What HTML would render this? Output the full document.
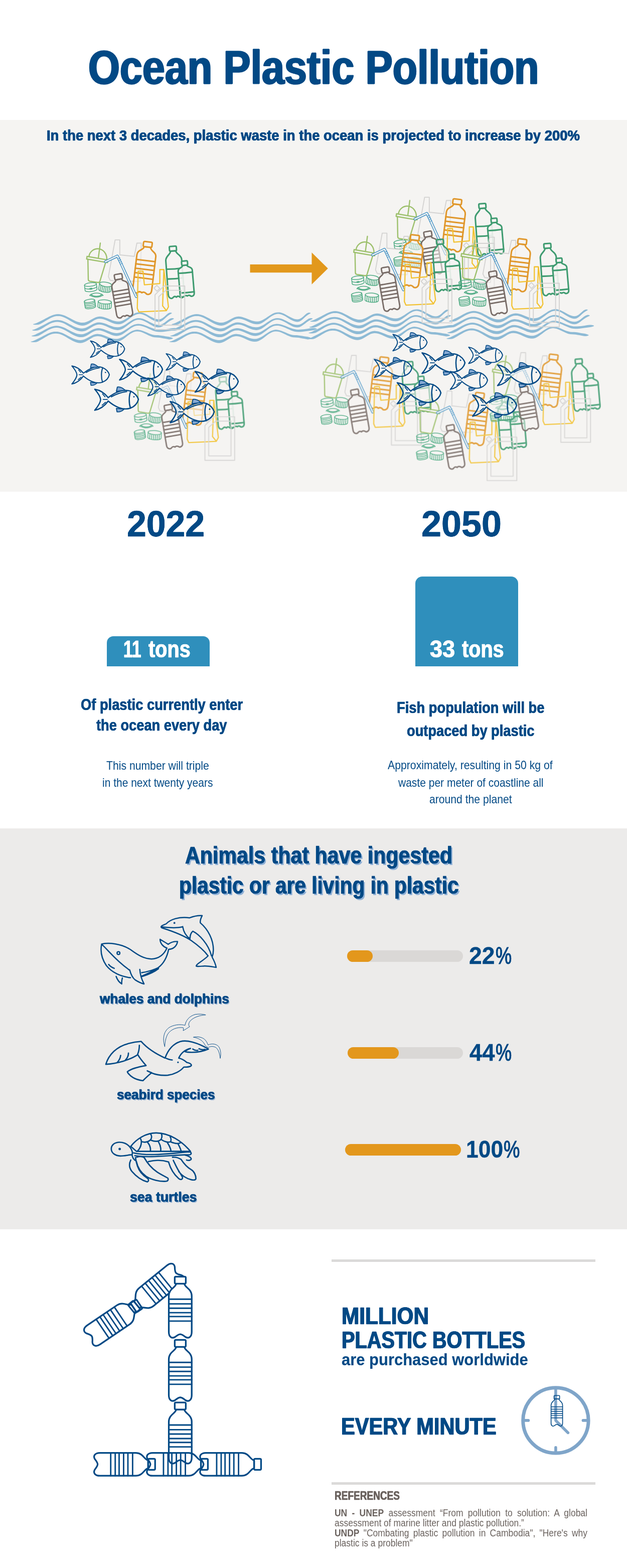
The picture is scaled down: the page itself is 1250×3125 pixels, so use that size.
<!DOCTYPE html>
<html lang="en"><head><meta charset="utf-8"><title>Ocean Plastic Pollution</title>
<style>html,body{margin:0;padding:0}
body{width:1250px;height:3125px;position:relative;background:#fff;overflow:hidden;font-family:"Liberation Sans", sans-serif}
.abs{position:absolute}
.t{position:absolute;white-space:nowrap;transform-origin:0 0;font-family:"Liberation Sans", sans-serif}
.band{position:absolute;left:0;width:1250px}</style></head>
<body>
<div class="band" style="top:239.2px;height:740.8px;background:#f5f4f2"></div>
<div class="band" style="top:1650.5px;height:799px;background:#ecebea"></div>
<svg class="abs" style="left:0;top:0" width="1250" height="1000" viewBox="0 0 1250 1000"><defs><g id="trash" transform="scale(0.25243)"><path d="M315,72 H352 L352,190 L466,202 L487,97 H522 L512,400 L300,394 L275,390 L262,362 Z" stroke="#d4d3d2" stroke-width="7.5" fill="none" stroke-linejoin="round"/><g stroke="#9dc06c" stroke-width="9.5" fill="none" stroke-linejoin="round" stroke-linecap="round"><path d="M198,97 L183,210"/><path d="M108,205 C112,165 148,138 185,142 C222,146 250,180 250,226"/><path d="M93,202 L258,230 L255,251 L90,223 Z" fill="#f5f4f2"/><path d="M100,226 L103,385 Q104,396 115,398 L180,408 Q191,409 195,398 L240,250"/></g><g transform="rotate(-7 122 445)"><g stroke="#4fab84" stroke-width="6" fill="none" stroke-linecap="round" stroke-linejoin="round"><ellipse cx="122.5" cy="424.0" rx="47.5" ry="14.0"/><path d="M75,424.0 V466.0 A47.5,14.0 0 0 0 170,466.0 V424.0"/><path d="M75,445.0 A47.5,14.0 0 0 0 170,445.0"/><rect x="114.5" y="453.4" width="16" height="8"/></g></g><g transform="rotate(9 236 445)"><g stroke="#4fab84" stroke-width="6" fill="none" stroke-linecap="round"><ellipse cx="236.5" cy="422.6" rx="48.5" ry="17.6"/><path d="M188,422.6 V467.4 A48.5,17.6 0 0 0 285,467.4 V422.6"/><path d="M201.9,438.9 V476.7"/><path d="M215.7,442.5 V480.3"/><path d="M229.6,444.0 V481.8"/><path d="M243.4,444.0 V481.8"/><path d="M257.3,442.5 V480.3"/><path d="M271.1,438.9 V476.7"/></g></g><g stroke="#4fab84" stroke-width="6" fill="none" stroke-linecap="round" stroke-linejoin="round"><ellipse cx="167.5" cy="503.96" rx="37.8" ry="12.6"/><path d="M115.0,511.1 L120.8,505.3 L126.7,516.1 L132.5,510.1 L138.3,520.5 L144.2,514.0 L150.0,523.8 L155.8,516.5 L161.7,525.6 L167.5,517.4 L173.3,525.6 L179.2,516.5 L185.0,523.8 L190.8,514.0 L196.7,520.5 L202.5,510.1 L208.3,516.1 L214.2,505.3 L220.0,511.1"/><path d="M115,511.1 Q125.5,496.4 129.7,500.6 M220,511.1 Q209.5,496.4 205.3,500.6"/></g><g transform="rotate(-9 116 578)"><g stroke="#4fab84" stroke-width="6" fill="none" stroke-linecap="round" stroke-linejoin="round"><ellipse cx="116.5" cy="552.75" rx="41.5" ry="12.750000000000002"/><path d="M75,552.75 V602.25 A41.5,12.750000000000002 0 0 0 158,602.25 V552.75"/><path d="M75,563.85 A41.5,12.750000000000002 0 0 0 158,563.85"/><path d="M75,577.35 A41.5,12.750000000000002 0 0 0 158,577.35"/><path d="M75,590.85 A41.5,12.750000000000002 0 0 0 158,590.85"/></g></g><g transform="rotate(4 232 582)"><g stroke="#4fab84" stroke-width="6" fill="none" stroke-linecap="round"><ellipse cx="232.5" cy="561.06" rx="52.5" ry="16.06"/><path d="M180,561.06 V601.94 A52.5,16.06 0 0 0 285,601.94 V561.06"/><path d="M195.0,576.3 V610.2"/><path d="M210.0,579.6 V613.5"/><path d="M225.0,581.0 V614.8"/><path d="M240.0,581.0 V614.8"/><path d="M255.0,579.6 V613.5"/><path d="M270.0,576.3 V610.2"/></g></g><g transform="translate(575,87) rotate(6.95)" stroke="#e0972b" stroke-width="12" fill="none" stroke-linejoin="round" stroke-linecap="round"><path d="M-25.9,41.3 C-25.9,70.2 -75.0,70.2 -75.0,111.5 L-75.0,375.9 C-75.0,415.1 -41.2,418.0 -31.5,404.8 Q-15.0,392.4 0,404.8 Q15.0,392.4 31.5,404.8 C41.2,418.0 75.0,415.1 75.0,375.9 L75.0,111.5 C75.0,70.2 25.9,70.2 25.9,41.3 Z" fill="#f5f4f2" fill-opacity="0.55"/><rect x="-34.5" y="0" width="69.0" height="41.3" rx="9.1" fill="#f5f4f2" fill-opacity="0.55"/><path d="M-75.0,148.7 H75.0"/><path d="M-75.0,183.8 H75.0"/><path d="M-75.0,218.9 H75.0"/><path d="M-75.0,254.0 H75.0"/><path d="M-75.0,289.1 H75.0"/></g><g transform="translate(770,122) rotate(-4.18)" stroke="#3e9b70" stroke-width="12" fill="none" stroke-linejoin="round" stroke-linecap="round"><path d="M-20.8,37.0 C-20.8,65.8 -63.0,69.9 -63.0,111.0 L-63.0,374.1 C-63.0,413.2 -34.7,416.0 -26.5,402.9 Q-12.6,390.5 0,402.9 Q12.6,390.5 26.5,402.9 C34.7,416.0 63.0,413.2 63.0,374.1 L63.0,111.0 C63.0,69.9 20.8,65.8 20.8,37.0 Z" fill="#f5f4f2" fill-opacity="0.55"/><rect x="-27.7" y="0" width="55.4" height="37.0" rx="8.1" fill="#f5f4f2" fill-opacity="0.55"/><path d="M-63.0,176.8 Q0,181.7 63.0,176.8"/><path d="M-63.0,254.9 Q0,259.8 63.0,254.9"/></g><g transform="translate(862,238) rotate(-4.86)" stroke="#3e9b70" stroke-width="12" fill="none" stroke-linejoin="round" stroke-linecap="round"><path d="M-17.6,34.0 C-17.6,53.8 -56.0,48.1 -56.0,76.4 L-56.0,257.5 C-56.0,284.4 -30.8,286.4 -23.5,277.4 Q-11.2,268.9 0,277.4 Q11.2,268.9 23.5,277.4 C30.8,286.4 56.0,284.4 56.0,257.5 L56.0,76.4 C56.0,48.1 17.6,53.8 17.6,34.0 Z" fill="#f5f4f2" fill-opacity="0.9"/><rect x="-23.5" y="0" width="47.0" height="34.0" rx="7.5" fill="#f5f4f2" fill-opacity="0.9"/><path d="M-56.0,93.4 Q0,96.8 56.0,93.4"/><path d="M-56.0,249.1 Q0,252.5 56.0,249.1"/></g><g transform="translate(337,342) rotate(-9.68)" stroke="#786c67" stroke-width="11" fill="none" stroke-linejoin="round" stroke-linecap="round"><path d="M-23.0,41.4 C-23.0,65.5 -64.0,58.6 -64.0,93.1 L-64.0,313.9 C-64.0,346.6 -35.2,349.1 -26.9,338.0 Q-12.8,327.7 0,338.0 Q12.8,327.7 26.9,338.0 C35.2,349.1 64.0,346.6 64.0,313.9 L64.0,93.1 C64.0,58.6 23.0,65.5 23.0,41.4 Z" fill="#f5f4f2" fill-opacity="0.55"/><rect x="-30.7" y="0" width="61.4" height="41.4" rx="9.1" fill="#f5f4f2" fill-opacity="0.55"/><path d="M-64.0,131.1 H64.0"/><path d="M-64.0,160.4 H64.0"/><path d="M-64.0,189.7 H64.0"/><path d="M-64.0,219.0 H64.0"/><path d="M-64.0,248.3 H64.0"/></g><path d="M238,244 L333,199 L356,246 L482,520" stroke="#3f90c5" stroke-width="21" fill="none" stroke-linejoin="round" stroke-linecap="round"/><path d="M238,244 L333,199 L356,246 L482,520" stroke="#f5f4f2" stroke-width="10" fill="none" stroke-linejoin="round" stroke-linecap="round"/><path d="M338,222 l18,-9 M344,236 l18,-9 M350,250 l18,-9 M356,264 l18,-9" stroke="#3f90c5" stroke-width="4" fill="none"/><g stroke="#f2c232" stroke-width="9" fill="none" stroke-linejoin="round"><path d="M497,318 H535 L546,426 L668,416 V306 H700 L736,600 L720,630 L502,640 L490,612 Z"/><path d="M700,306 L690,592 L720,630"/></g><g stroke="#d4d3d2" stroke-width="7.5" fill="none" stroke-linejoin="round"><path d="M700,436 H865 V780 H630 V505 L668,468 Z"/><path d="M715,470 H836 V745 H660 V520 Z"/><path d="M622,452 L645,430 L668,455 L645,477 Z"/></g></g><g id="fish" transform="translate(-60,-88)" stroke="#024985" stroke-width="12" fill="none" stroke-linejoin="round" stroke-linecap="round"><path d="M62,118 C112,126 160,160 190,198 C250,150 330,112 400,135 C442,150 470,185 478,215 C470,250 442,284 400,298 C330,322 250,282 190,230 C160,272 112,308 62,318 C100,272 116,242 118,217 C116,190 100,162 62,118 Z" fill="#f5f4f2" fill-opacity="0.55"/><path d="M268,138 L277,97 C302,92 330,107 352,128 Z" fill="#86a9d3" stroke-width="9"/><path d="M268,300 L274,333 C300,336 324,325 342,307 Z" fill="#86a9d3" stroke-width="9"/><path d="M405,137 C386,180 386,250 402,297"/><path d="M220,190 C262,165 312,148 366,140" stroke-width="11"/><path d="M142,215 H182 M136,162 L160,190 M132,270 L164,242" stroke-width="9"/><circle cx="435" cy="190" r="7" fill="#024985" stroke="none"/></g></defs><g fill="#8dbad5"><path d="M66.0,646.0 L69.5,645.1 L73.1,643.7 L76.7,641.9 L80.2,640.2 L83.8,638.5 L87.3,636.7 L90.8,634.8 L94.4,632.9 L98.0,631.0 L101.5,629.4 L105.1,628.0 L108.6,627.0 L112.2,626.3 L115.7,626.1 L119.2,626.3 L122.7,627.0 L126.3,628.0 L129.8,629.3 L133.3,630.9 L136.8,632.7 L140.3,634.6 L143.9,636.5 L147.4,638.3 L150.9,639.9 L154.4,641.2 L158.0,642.2 L161.5,642.9 L165.0,643.1 L168.7,642.7 L172.5,641.6 L176.2,640.0 L180.0,638.0 L183.7,635.9 L187.5,633.9 L191.2,632.3 L195.0,631.2 L198.7,630.8 L202.4,631.1 L206.2,631.8 L209.9,632.9 L213.6,634.2 L217.3,635.8 L221.1,637.3 L224.8,638.7 L228.5,639.8 L232.3,640.5 L236.0,640.7 L239.5,640.4 L243.0,639.5 L246.5,638.0 L250.0,636.1 L253.5,633.9 L257.0,631.5 L260.5,629.2 L264.0,626.9 L267.5,625.0 L271.0,623.6 L274.5,622.7 L278.0,622.4 L281.5,622.6 L285.1,623.5 L288.6,624.8 L292.2,626.5 L295.7,628.4 L299.3,630.4 L302.8,632.3 L306.4,634.0 L309.9,635.4 L313.5,636.2 L317.0,636.5 L320.6,635.8 L324.3,633.8 L327.9,630.9 L331.6,627.5 L335.2,624.5 L338.9,623.0 L342.5,623.4 L342.5,624.6 L338.9,626.5 L335.2,629.1 L331.6,632.1 L327.9,635.5 L324.3,638.5 L320.6,640.7 L317.0,641.5 L313.5,641.2 L309.9,640.3 L306.4,638.8 L302.8,636.9 L299.3,634.7 L295.7,632.5 L292.2,630.3 L288.6,628.4 L285.1,626.9 L281.5,626.0 L278.0,625.6 L274.5,626.0 L271.0,627.0 L267.5,628.7 L264.0,630.8 L260.5,633.3 L257.0,636.0 L253.5,638.6 L250.0,641.1 L246.5,643.3 L243.0,644.9 L239.5,645.9 L236.0,646.3 L232.3,646.0 L228.5,645.2 L224.8,644.0 L221.1,642.4 L217.3,640.7 L213.6,639.0 L209.9,637.5 L206.2,636.2 L202.4,635.4 L198.7,635.2 L195.0,635.6 L191.2,636.8 L187.5,638.6 L183.7,640.9 L180.0,643.2 L176.2,645.5 L172.5,647.3 L168.7,648.5 L165.0,648.9 L161.5,648.7 L158.0,648.0 L154.4,646.8 L150.9,645.3 L147.4,643.5 L143.9,641.5 L140.3,639.4 L136.8,637.3 L133.3,635.3 L129.8,633.5 L126.3,632.0 L122.7,630.8 L119.2,630.1 L115.7,629.9 L112.2,630.1 L108.6,630.8 L105.1,632.0 L101.5,633.5 L98.0,635.4 L94.4,637.5 L90.8,639.6 L87.3,641.8 L83.8,643.8 L80.2,645.7 L76.7,646.9 L73.1,647.3 L69.5,647.3 L66.0,646.8Z"/><path d="M64.5,657.6 L68.0,656.7 L71.6,655.3 L75.2,653.5 L78.7,651.8 L82.2,650.1 L85.8,648.3 L89.3,646.4 L92.9,644.5 L96.5,642.6 L100.0,641.0 L103.6,639.6 L107.1,638.6 L110.7,637.9 L114.2,637.7 L117.7,637.9 L121.2,638.6 L124.8,639.6 L128.3,640.9 L131.8,642.5 L135.3,644.3 L138.8,646.2 L142.4,648.1 L145.9,649.9 L149.4,651.5 L152.9,652.8 L156.5,653.8 L160.0,654.5 L163.5,654.7 L167.2,654.3 L171.0,653.2 L174.7,651.6 L178.5,649.6 L182.2,647.5 L186.0,645.5 L189.7,643.9 L193.5,642.8 L197.2,642.4 L200.9,642.7 L204.7,643.4 L208.4,644.5 L212.1,645.8 L215.8,647.4 L219.6,648.9 L223.3,650.3 L227.0,651.4 L230.8,652.1 L234.5,652.3 L238.0,652.0 L241.5,651.1 L245.0,649.6 L248.5,647.7 L252.0,645.5 L255.5,643.1 L259.0,640.8 L262.5,638.5 L266.0,636.6 L269.5,635.2 L273.0,634.3 L276.5,634.0 L280.1,634.2 L283.8,635.0 L287.4,636.3 L291.0,637.9 L294.7,639.8 L298.3,641.8 L302.0,643.6 L305.6,645.3 L309.2,646.5 L312.9,647.3 L316.5,647.6 L320.2,647.1 L324.0,645.5 L327.8,643.2 L331.5,640.3 L335.2,637.4 L339.0,635.0 L342.8,633.9 L346.5,634.5 L346.5,635.7 L342.8,637.5 L339.0,639.6 L335.2,642.0 L331.5,644.9 L327.8,647.8 L324.0,650.3 L320.2,652.0 L316.5,652.6 L312.9,652.3 L309.2,651.4 L305.6,649.9 L302.0,648.1 L298.3,646.0 L294.7,643.8 L291.0,641.7 L287.4,639.9 L283.8,638.5 L280.1,637.6 L276.5,637.2 L273.0,637.6 L269.5,638.6 L266.0,640.3 L262.5,642.4 L259.0,644.9 L255.5,647.6 L252.0,650.2 L248.5,652.7 L245.0,654.9 L241.5,656.5 L238.0,657.5 L234.5,657.9 L230.8,657.6 L227.0,656.8 L223.3,655.6 L219.6,654.0 L215.8,652.3 L212.1,650.6 L208.4,649.1 L204.7,647.8 L200.9,647.0 L197.2,646.8 L193.5,647.2 L189.7,648.4 L186.0,650.2 L182.2,652.5 L178.5,654.8 L174.7,657.1 L171.0,658.9 L167.2,660.1 L163.5,660.5 L160.0,660.3 L156.5,659.6 L152.9,658.4 L149.4,656.9 L145.9,655.1 L142.4,653.1 L138.8,651.0 L135.3,648.9 L131.8,646.9 L128.3,645.1 L124.8,643.6 L121.2,642.4 L117.7,641.7 L114.2,641.5 L110.7,641.7 L107.1,642.4 L103.6,643.6 L100.0,645.1 L96.5,647.0 L92.9,649.1 L89.3,651.2 L85.8,653.4 L82.2,655.4 L78.7,657.3 L75.2,658.5 L71.6,658.9 L68.0,658.9 L64.5,658.4Z"/><path d="M63.0,669.2 L66.5,668.3 L70.1,666.9 L73.7,665.1 L77.2,663.4 L80.8,661.7 L84.3,659.9 L87.8,658.0 L91.4,656.1 L95.0,654.2 L98.5,652.6 L102.1,651.2 L105.6,650.2 L109.2,649.5 L112.7,649.3 L116.2,649.5 L119.7,650.2 L123.3,651.2 L126.8,652.5 L130.3,654.1 L133.8,655.9 L137.3,657.8 L140.9,659.7 L144.4,661.5 L147.9,663.1 L151.4,664.4 L155.0,665.4 L158.5,666.1 L162.0,666.3 L165.7,665.9 L169.5,664.8 L173.2,663.2 L177.0,661.2 L180.7,659.1 L184.5,657.1 L188.2,655.5 L192.0,654.4 L195.7,654.0 L199.4,654.3 L203.2,655.0 L206.9,656.1 L210.6,657.4 L214.3,659.0 L218.1,660.5 L221.8,661.9 L225.5,663.0 L229.3,663.7 L233.0,663.9 L236.5,663.6 L240.0,662.7 L243.5,661.2 L247.0,659.3 L250.5,657.1 L254.0,654.7 L257.5,652.4 L261.0,650.1 L264.5,648.2 L268.0,646.8 L271.5,645.9 L275.0,645.6 L278.6,645.7 L282.2,646.3 L285.8,647.2 L289.3,648.4 L292.9,649.7 L296.5,651.2 L300.1,652.7 L303.7,654.0 L307.2,655.2 L310.8,656.1 L314.4,656.7 L318.0,656.9 L321.7,656.8 L325.4,656.5 L329.1,656.2 L332.8,655.7 L336.5,655.2 L340.2,654.6 L343.9,654.1 L347.6,653.7 L351.3,654.0 L355.0,655.1 L355.0,656.3 L351.3,657.6 L347.6,658.3 L343.9,658.7 L340.2,659.2 L336.5,659.8 L332.8,660.3 L329.1,660.8 L325.4,661.2 L321.7,661.5 L318.0,661.5 L314.4,661.3 L310.8,660.7 L307.2,659.7 L303.7,658.4 L300.1,656.8 L296.5,655.2 L292.9,653.6 L289.3,652.0 L285.8,650.7 L282.2,649.7 L278.6,649.1 L275.0,648.9 L271.5,649.2 L268.0,650.2 L264.5,651.9 L261.0,654.0 L257.5,656.5 L254.0,659.2 L250.5,661.8 L247.0,664.3 L243.5,666.5 L240.0,668.1 L236.5,669.1 L233.0,669.5 L229.3,669.2 L225.5,668.4 L221.8,667.2 L218.1,665.6 L214.3,663.9 L210.6,662.2 L206.9,660.7 L203.2,659.4 L199.4,658.6 L195.7,658.4 L192.0,658.8 L188.2,660.0 L184.5,661.8 L180.7,664.1 L177.0,666.4 L173.2,668.7 L169.5,670.5 L165.7,671.7 L162.0,672.1 L158.5,671.9 L155.0,671.2 L151.4,670.0 L147.9,668.5 L144.4,666.7 L140.9,664.7 L137.3,662.6 L133.8,660.5 L130.3,658.5 L126.8,656.7 L123.3,655.2 L119.7,654.0 L116.2,653.3 L112.7,653.1 L109.2,653.3 L105.6,654.0 L102.1,655.2 L98.5,656.7 L95.0,658.6 L91.4,660.7 L87.8,662.8 L84.3,665.0 L80.8,667.0 L77.2,668.9 L73.7,670.1 L70.1,670.5 L66.5,670.5 L63.0,670.0Z"/><path d="M61.5,680.8 L65.0,679.9 L68.6,678.5 L72.2,676.7 L75.7,675.0 L79.2,673.3 L82.8,671.5 L86.3,669.6 L89.9,667.7 L93.5,665.8 L97.0,664.2 L100.6,662.8 L104.1,661.8 L107.7,661.1 L111.2,660.9 L114.7,661.1 L118.2,661.8 L121.8,662.8 L125.3,664.1 L128.8,665.7 L132.3,667.5 L135.8,669.4 L139.4,671.3 L142.9,673.1 L146.4,674.7 L149.9,676.0 L153.5,677.0 L157.0,677.7 L160.5,677.9 L164.2,677.5 L168.0,676.4 L171.7,674.8 L175.5,672.8 L179.2,670.7 L183.0,668.7 L186.7,667.1 L190.5,666.0 L194.2,665.6 L197.9,665.9 L201.7,666.6 L205.4,667.7 L209.1,669.0 L212.8,670.6 L216.6,672.1 L220.3,673.5 L224.0,674.6 L227.8,675.3 L231.5,675.5 L235.0,675.2 L238.5,674.3 L242.0,672.8 L245.5,670.9 L249.0,668.7 L252.5,666.3 L256.0,664.0 L259.5,661.7 L263.0,659.8 L266.5,658.4 L270.0,657.5 L273.5,657.1 L277.3,657.4 L281.1,658.2 L284.9,659.4 L288.7,660.9 L292.5,662.6 L296.3,664.2 L300.1,665.7 L303.9,666.9 L307.7,667.7 L311.5,668.0 L315.2,668.1 L318.8,668.4 L322.5,668.9 L326.2,669.5 L329.8,670.2 L333.5,670.8 L337.2,671.3 L340.8,672.2 L344.5,673.7 L344.5,674.9 L340.8,676.1 L337.2,676.4 L333.5,675.8 L329.8,675.1 L326.2,674.4 L322.5,673.7 L318.8,673.1 L315.2,672.7 L311.5,672.6 L307.7,672.3 L303.9,671.5 L300.1,670.1 L296.3,668.4 L292.5,666.5 L288.7,664.7 L284.9,663.0 L281.1,661.6 L277.3,660.7 L273.5,660.4 L270.0,660.8 L266.5,661.8 L263.0,663.5 L259.5,665.6 L256.0,668.1 L252.5,670.8 L249.0,673.4 L245.5,675.9 L242.0,678.1 L238.5,679.7 L235.0,680.7 L231.5,681.1 L227.8,680.8 L224.0,680.0 L220.3,678.8 L216.6,677.2 L212.8,675.5 L209.1,673.8 L205.4,672.3 L201.7,671.0 L197.9,670.2 L194.2,670.0 L190.5,670.4 L186.7,671.6 L183.0,673.4 L179.2,675.7 L175.5,678.0 L171.7,680.3 L168.0,682.1 L164.2,683.3 L160.5,683.7 L157.0,683.5 L153.5,682.8 L149.9,681.6 L146.4,680.1 L142.9,678.3 L139.4,676.3 L135.8,674.2 L132.3,672.1 L128.8,670.1 L125.3,668.3 L121.8,666.8 L118.2,665.6 L114.7,664.9 L111.2,664.7 L107.7,664.9 L104.1,665.6 L100.6,666.8 L97.0,668.3 L93.5,670.2 L89.9,672.3 L86.3,674.4 L82.8,676.6 L79.2,678.6 L75.7,680.5 L72.2,681.7 L68.6,682.1 L65.0,682.1 L61.5,681.6Z"/><path d="M342.5,646.0 L346.1,645.1 L349.6,643.7 L353.1,641.9 L356.7,640.2 L360.2,638.5 L363.8,636.7 L367.4,634.8 L370.9,632.9 L374.4,631.0 L378.0,629.4 L381.6,628.0 L385.1,627.0 L388.6,626.3 L392.2,626.1 L395.7,626.3 L399.2,627.0 L402.8,628.0 L406.3,629.3 L409.8,630.9 L413.3,632.7 L416.9,634.6 L420.4,636.5 L423.9,638.3 L427.4,639.9 L430.9,641.2 L434.5,642.2 L438.0,642.9 L441.5,643.1 L445.2,642.7 L449.0,641.6 L452.7,640.0 L456.5,638.0 L460.2,635.9 L464.0,633.9 L467.7,632.3 L471.5,631.2 L475.2,630.8 L478.9,631.1 L482.7,631.8 L486.4,632.9 L490.1,634.2 L493.9,635.8 L497.6,637.3 L501.3,638.7 L505.0,639.8 L508.8,640.5 L512.5,640.7 L516.0,640.4 L519.5,639.5 L523.0,638.0 L526.5,636.1 L530.0,633.9 L533.5,631.5 L537.0,629.2 L540.5,626.9 L544.0,625.0 L547.5,623.6 L551.0,622.7 L554.5,622.4 L558.0,622.6 L561.6,623.5 L565.1,624.8 L568.7,626.5 L572.2,628.4 L575.8,630.4 L579.3,632.3 L582.9,634.0 L586.4,635.4 L590.0,636.2 L593.5,636.5 L597.1,635.8 L600.8,633.8 L604.4,630.9 L608.1,627.5 L611.7,624.5 L615.4,623.0 L619.0,623.4 L619.0,624.6 L615.4,626.5 L611.7,629.1 L608.1,632.1 L604.4,635.5 L600.8,638.5 L597.1,640.7 L593.5,641.5 L590.0,641.2 L586.4,640.3 L582.9,638.8 L579.3,636.9 L575.8,634.7 L572.2,632.5 L568.7,630.3 L565.1,628.4 L561.6,626.9 L558.0,626.0 L554.5,625.6 L551.0,626.0 L547.5,627.0 L544.0,628.7 L540.5,630.8 L537.0,633.3 L533.5,636.0 L530.0,638.6 L526.5,641.1 L523.0,643.3 L519.5,644.9 L516.0,645.9 L512.5,646.3 L508.8,646.0 L505.0,645.2 L501.3,644.0 L497.6,642.4 L493.9,640.7 L490.1,639.0 L486.4,637.5 L482.7,636.2 L478.9,635.4 L475.2,635.2 L471.5,635.6 L467.7,636.8 L464.0,638.6 L460.2,640.9 L456.5,643.2 L452.7,645.5 L449.0,647.3 L445.2,648.5 L441.5,648.9 L438.0,648.7 L434.5,648.0 L430.9,646.8 L427.4,645.3 L423.9,643.5 L420.4,641.5 L416.9,639.4 L413.3,637.3 L409.8,635.3 L406.3,633.5 L402.8,632.0 L399.2,630.8 L395.7,630.1 L392.2,629.9 L388.6,630.1 L385.1,630.8 L381.6,632.0 L378.0,633.5 L374.4,635.4 L370.9,637.5 L367.4,639.6 L363.8,641.8 L360.2,643.8 L356.7,645.7 L353.1,646.9 L349.6,647.3 L346.1,647.3 L342.5,646.8Z"/><path d="M341.0,657.6 L344.6,656.7 L348.1,655.3 L351.6,653.5 L355.2,651.8 L358.8,650.1 L362.3,648.3 L365.9,646.4 L369.4,644.5 L372.9,642.6 L376.5,641.0 L380.1,639.6 L383.6,638.6 L387.1,637.9 L390.7,637.7 L394.2,637.9 L397.7,638.6 L401.3,639.6 L404.8,640.9 L408.3,642.5 L411.8,644.3 L415.4,646.2 L418.9,648.1 L422.4,649.9 L425.9,651.5 L429.4,652.8 L433.0,653.8 L436.5,654.5 L440.0,654.7 L443.7,654.3 L447.5,653.2 L451.2,651.6 L455.0,649.6 L458.7,647.5 L462.5,645.5 L466.2,643.9 L470.0,642.8 L473.7,642.4 L477.4,642.7 L481.2,643.4 L484.9,644.5 L488.6,645.8 L492.4,647.4 L496.1,648.9 L499.8,650.3 L503.5,651.4 L507.3,652.1 L511.0,652.3 L514.5,652.0 L518.0,651.1 L521.5,649.6 L525.0,647.7 L528.5,645.5 L532.0,643.1 L535.5,640.8 L539.0,638.5 L542.5,636.6 L546.0,635.2 L549.5,634.3 L553.0,634.0 L556.6,634.2 L560.3,635.0 L563.9,636.3 L567.5,637.9 L571.2,639.8 L574.8,641.8 L578.5,643.6 L582.1,645.3 L585.7,646.5 L589.4,647.3 L593.0,647.6 L596.8,647.1 L600.5,645.5 L604.2,643.2 L608.0,640.3 L611.8,637.4 L615.5,635.0 L619.2,633.9 L623.0,634.5 L623.0,635.7 L619.2,637.5 L615.5,639.6 L611.8,642.0 L608.0,644.9 L604.2,647.8 L600.5,650.3 L596.8,652.0 L593.0,652.6 L589.4,652.3 L585.7,651.4 L582.1,649.9 L578.5,648.1 L574.8,646.0 L571.2,643.8 L567.5,641.7 L563.9,639.9 L560.3,638.5 L556.6,637.6 L553.0,637.2 L549.5,637.6 L546.0,638.6 L542.5,640.3 L539.0,642.4 L535.5,644.9 L532.0,647.6 L528.5,650.2 L525.0,652.7 L521.5,654.9 L518.0,656.5 L514.5,657.5 L511.0,657.9 L507.3,657.6 L503.5,656.8 L499.8,655.6 L496.1,654.0 L492.4,652.3 L488.6,650.6 L484.9,649.1 L481.2,647.8 L477.4,647.0 L473.7,646.8 L470.0,647.2 L466.2,648.4 L462.5,650.2 L458.7,652.5 L455.0,654.8 L451.2,657.1 L447.5,658.9 L443.7,660.1 L440.0,660.5 L436.5,660.3 L433.0,659.6 L429.4,658.4 L425.9,656.9 L422.4,655.1 L418.9,653.1 L415.4,651.0 L411.8,648.9 L408.3,646.9 L404.8,645.1 L401.3,643.6 L397.7,642.4 L394.2,641.7 L390.7,641.5 L387.1,641.7 L383.6,642.4 L380.1,643.6 L376.5,645.1 L372.9,647.0 L369.4,649.1 L365.9,651.2 L362.3,653.4 L358.8,655.4 L355.2,657.3 L351.6,658.5 L348.1,658.9 L344.6,658.9 L341.0,658.4Z"/><path d="M339.5,669.2 L343.1,668.3 L346.6,666.9 L350.1,665.1 L353.7,663.4 L357.2,661.7 L360.8,659.9 L364.4,658.0 L367.9,656.1 L371.4,654.2 L375.0,652.6 L378.6,651.2 L382.1,650.2 L385.6,649.5 L389.2,649.3 L392.7,649.5 L396.2,650.2 L399.8,651.2 L403.3,652.5 L406.8,654.1 L410.3,655.9 L413.9,657.8 L417.4,659.7 L420.9,661.5 L424.4,663.1 L427.9,664.4 L431.5,665.4 L435.0,666.1 L438.5,666.3 L442.2,665.9 L446.0,664.8 L449.7,663.2 L453.5,661.2 L457.2,659.1 L461.0,657.1 L464.7,655.5 L468.5,654.4 L472.2,654.0 L475.9,654.3 L479.7,655.0 L483.4,656.1 L487.1,657.4 L490.9,659.0 L494.6,660.5 L498.3,661.9 L502.0,663.0 L505.8,663.7 L509.5,663.9 L513.0,663.6 L516.5,662.7 L520.0,661.2 L523.5,659.3 L527.0,657.1 L530.5,654.7 L534.0,652.4 L537.5,650.1 L541.0,648.2 L544.5,646.8 L548.0,645.9 L551.5,645.6 L555.1,645.7 L558.7,646.3 L562.2,647.2 L565.8,648.4 L569.4,649.7 L573.0,651.2 L576.6,652.7 L580.2,654.0 L583.8,655.2 L587.3,656.1 L590.9,656.7 L594.5,656.9 L598.2,656.8 L601.9,656.5 L605.6,656.2 L609.3,655.7 L613.0,655.2 L616.7,654.6 L620.4,654.1 L624.1,653.7 L627.8,654.0 L631.5,655.1 L631.5,656.3 L627.8,657.6 L624.1,658.3 L620.4,658.7 L616.7,659.2 L613.0,659.8 L609.3,660.3 L605.6,660.8 L601.9,661.2 L598.2,661.5 L594.5,661.5 L590.9,661.3 L587.3,660.7 L583.8,659.7 L580.2,658.4 L576.6,656.8 L573.0,655.2 L569.4,653.6 L565.8,652.0 L562.2,650.7 L558.7,649.7 L555.1,649.1 L551.5,648.9 L548.0,649.2 L544.5,650.2 L541.0,651.9 L537.5,654.0 L534.0,656.5 L530.5,659.2 L527.0,661.8 L523.5,664.3 L520.0,666.5 L516.5,668.1 L513.0,669.1 L509.5,669.5 L505.8,669.2 L502.0,668.4 L498.3,667.2 L494.6,665.6 L490.9,663.9 L487.1,662.2 L483.4,660.7 L479.7,659.4 L475.9,658.6 L472.2,658.4 L468.5,658.8 L464.7,660.0 L461.0,661.8 L457.2,664.1 L453.5,666.4 L449.7,668.7 L446.0,670.5 L442.2,671.7 L438.5,672.1 L435.0,671.9 L431.5,671.2 L427.9,670.0 L424.4,668.5 L420.9,666.7 L417.4,664.7 L413.9,662.6 L410.3,660.5 L406.8,658.5 L403.3,656.7 L399.8,655.2 L396.2,654.0 L392.7,653.3 L389.2,653.1 L385.6,653.3 L382.1,654.0 L378.6,655.2 L375.0,656.7 L371.4,658.6 L367.9,660.7 L364.4,662.8 L360.8,665.0 L357.2,667.0 L353.7,668.9 L350.1,670.1 L346.6,670.5 L343.1,670.5 L339.5,670.0Z"/><path d="M338.0,680.8 L341.6,679.9 L345.1,678.5 L348.6,676.7 L352.2,675.0 L355.8,673.3 L359.3,671.5 L362.9,669.6 L366.4,667.7 L369.9,665.8 L373.5,664.2 L377.1,662.8 L380.6,661.8 L384.1,661.1 L387.7,660.9 L391.2,661.1 L394.7,661.8 L398.3,662.8 L401.8,664.1 L405.3,665.7 L408.8,667.5 L412.4,669.4 L415.9,671.3 L419.4,673.1 L422.9,674.7 L426.4,676.0 L430.0,677.0 L433.5,677.7 L437.0,677.9 L440.7,677.5 L444.5,676.4 L448.2,674.8 L452.0,672.8 L455.7,670.7 L459.5,668.7 L463.2,667.1 L467.0,666.0 L470.7,665.6 L474.4,665.9 L478.2,666.6 L481.9,667.7 L485.6,669.0 L489.4,670.6 L493.1,672.1 L496.8,673.5 L500.5,674.6 L504.3,675.3 L508.0,675.5 L511.5,675.2 L515.0,674.3 L518.5,672.8 L522.0,670.9 L525.5,668.7 L529.0,666.3 L532.5,664.0 L536.0,661.7 L539.5,659.8 L543.0,658.4 L546.5,657.5 L550.0,657.1 L553.8,657.4 L557.6,658.2 L561.4,659.4 L565.2,660.9 L569.0,662.6 L572.8,664.2 L576.6,665.7 L580.4,666.9 L584.2,667.7 L588.0,668.0 L591.7,668.1 L595.3,668.4 L599.0,668.9 L602.7,669.5 L606.3,670.2 L610.0,670.8 L613.7,671.3 L617.3,672.2 L621.0,673.7 L621.0,674.9 L617.3,676.1 L613.7,676.4 L610.0,675.8 L606.3,675.1 L602.7,674.4 L599.0,673.7 L595.3,673.1 L591.7,672.7 L588.0,672.6 L584.2,672.3 L580.4,671.5 L576.6,670.1 L572.8,668.4 L569.0,666.5 L565.2,664.7 L561.4,663.0 L557.6,661.6 L553.8,660.7 L550.0,660.4 L546.5,660.8 L543.0,661.8 L539.5,663.5 L536.0,665.6 L532.5,668.1 L529.0,670.8 L525.5,673.4 L522.0,675.9 L518.5,678.1 L515.0,679.7 L511.5,680.7 L508.0,681.1 L504.3,680.8 L500.5,680.0 L496.8,678.8 L493.1,677.2 L489.4,675.5 L485.6,673.8 L481.9,672.3 L478.2,671.0 L474.4,670.2 L470.7,670.0 L467.0,670.4 L463.2,671.6 L459.5,673.4 L455.7,675.7 L452.0,678.0 L448.2,680.3 L444.5,682.1 L440.7,683.3 L437.0,683.7 L433.5,683.5 L430.0,682.8 L426.4,681.6 L422.9,680.1 L419.4,678.3 L415.9,676.3 L412.4,674.2 L408.8,672.1 L405.3,670.1 L401.8,668.3 L398.3,666.8 L394.7,665.6 L391.2,664.9 L387.7,664.7 L384.1,664.9 L380.6,665.6 L377.1,666.8 L373.5,668.3 L369.9,670.2 L366.4,672.3 L362.9,674.4 L359.3,676.6 L355.8,678.6 L352.2,680.5 L348.6,681.7 L345.1,682.1 L341.6,682.1 L338.0,681.6Z"/><path d="M618.5,640.0 L622.0,639.1 L625.6,637.7 L629.1,635.9 L632.7,634.2 L636.2,632.5 L639.8,630.7 L643.4,628.8 L646.9,626.9 L650.5,625.0 L654.0,623.4 L657.6,622.0 L661.1,621.0 L664.7,620.3 L668.2,620.1 L671.7,620.3 L675.2,621.0 L678.8,622.0 L682.3,623.3 L685.8,624.9 L689.3,626.7 L692.9,628.6 L696.4,630.5 L699.9,632.3 L703.4,633.9 L706.9,635.2 L710.5,636.2 L714.0,636.9 L717.5,637.1 L721.2,636.7 L725.0,635.6 L728.7,634.0 L732.5,632.0 L736.2,629.9 L740.0,627.9 L743.7,626.3 L747.5,625.2 L751.2,624.8 L754.9,625.1 L758.7,625.8 L762.4,626.9 L766.1,628.2 L769.9,629.8 L773.6,631.3 L777.3,632.7 L781.0,633.8 L784.8,634.5 L788.5,634.7 L792.0,634.4 L795.5,633.5 L799.0,632.0 L802.5,630.1 L806.0,627.9 L809.5,625.5 L813.0,623.2 L816.5,620.9 L820.0,619.0 L823.5,617.6 L827.0,616.7 L830.5,616.4 L834.0,616.6 L837.6,617.5 L841.1,618.8 L844.7,620.5 L848.2,622.4 L851.8,624.4 L855.3,626.3 L858.9,628.0 L862.4,629.4 L866.0,630.2 L869.5,630.5 L873.1,629.8 L876.8,627.8 L880.4,624.9 L884.1,621.5 L887.7,618.5 L891.4,617.0 L895.0,617.4 L895.0,618.6 L891.4,620.5 L887.7,623.1 L884.1,626.1 L880.4,629.5 L876.8,632.5 L873.1,634.7 L869.5,635.5 L866.0,635.2 L862.4,634.3 L858.9,632.8 L855.3,630.9 L851.8,628.7 L848.2,626.5 L844.7,624.3 L841.1,622.4 L837.6,620.9 L834.0,620.0 L830.5,619.6 L827.0,620.0 L823.5,621.0 L820.0,622.7 L816.5,624.8 L813.0,627.3 L809.5,630.0 L806.0,632.6 L802.5,635.1 L799.0,637.3 L795.5,638.9 L792.0,639.9 L788.5,640.3 L784.8,640.0 L781.0,639.2 L777.3,638.0 L773.6,636.4 L769.9,634.7 L766.1,633.0 L762.4,631.5 L758.7,630.2 L754.9,629.4 L751.2,629.2 L747.5,629.6 L743.7,630.8 L740.0,632.6 L736.2,634.9 L732.5,637.2 L728.7,639.5 L725.0,641.3 L721.2,642.5 L717.5,642.9 L714.0,642.7 L710.5,642.0 L706.9,640.8 L703.4,639.3 L699.9,637.5 L696.4,635.5 L692.9,633.4 L689.3,631.3 L685.8,629.3 L682.3,627.5 L678.8,626.0 L675.2,624.8 L671.7,624.1 L668.2,623.9 L664.7,624.1 L661.1,624.8 L657.6,626.0 L654.0,627.5 L650.5,629.4 L646.9,631.5 L643.4,633.6 L639.8,635.8 L636.2,637.8 L632.7,639.7 L629.1,640.9 L625.6,641.3 L622.0,641.3 L618.5,640.8Z"/><path d="M617.0,651.6 L620.5,650.7 L624.1,649.3 L627.6,647.5 L631.2,645.8 L634.8,644.1 L638.3,642.3 L641.9,640.4 L645.4,638.5 L649.0,636.6 L652.5,635.0 L656.1,633.6 L659.6,632.6 L663.2,631.9 L666.7,631.7 L670.2,631.9 L673.7,632.6 L677.3,633.6 L680.8,634.9 L684.3,636.5 L687.8,638.3 L691.4,640.2 L694.9,642.1 L698.4,643.9 L701.9,645.5 L705.4,646.8 L709.0,647.8 L712.5,648.5 L716.0,648.7 L719.7,648.3 L723.5,647.2 L727.2,645.6 L731.0,643.6 L734.7,641.5 L738.5,639.5 L742.2,637.9 L746.0,636.8 L749.7,636.4 L753.4,636.7 L757.2,637.4 L760.9,638.5 L764.6,639.8 L768.4,641.4 L772.1,642.9 L775.8,644.3 L779.5,645.4 L783.3,646.1 L787.0,646.3 L790.5,646.0 L794.0,645.1 L797.5,643.6 L801.0,641.7 L804.5,639.5 L808.0,637.1 L811.5,634.8 L815.0,632.5 L818.5,630.6 L822.0,629.2 L825.5,628.3 L829.0,628.0 L832.6,628.2 L836.3,629.0 L839.9,630.3 L843.5,631.9 L847.2,633.8 L850.8,635.8 L854.5,637.6 L858.1,639.3 L861.7,640.5 L865.4,641.3 L869.0,641.6 L872.8,641.1 L876.5,639.5 L880.2,637.2 L884.0,634.3 L887.8,631.4 L891.5,629.0 L895.2,627.9 L899.0,628.5 L899.0,629.7 L895.2,631.5 L891.5,633.6 L887.8,636.0 L884.0,638.9 L880.2,641.8 L876.5,644.3 L872.8,646.0 L869.0,646.6 L865.4,646.3 L861.7,645.4 L858.1,643.9 L854.5,642.1 L850.8,640.0 L847.2,637.8 L843.5,635.7 L839.9,633.9 L836.3,632.5 L832.6,631.6 L829.0,631.2 L825.5,631.6 L822.0,632.6 L818.5,634.3 L815.0,636.4 L811.5,638.9 L808.0,641.6 L804.5,644.2 L801.0,646.7 L797.5,648.9 L794.0,650.5 L790.5,651.5 L787.0,651.9 L783.3,651.6 L779.5,650.8 L775.8,649.6 L772.1,648.0 L768.4,646.3 L764.6,644.6 L760.9,643.1 L757.2,641.8 L753.4,641.0 L749.7,640.8 L746.0,641.2 L742.2,642.4 L738.5,644.2 L734.7,646.5 L731.0,648.8 L727.2,651.1 L723.5,652.9 L719.7,654.1 L716.0,654.5 L712.5,654.3 L709.0,653.6 L705.4,652.4 L701.9,650.9 L698.4,649.1 L694.9,647.1 L691.4,645.0 L687.8,642.9 L684.3,640.9 L680.8,639.1 L677.3,637.6 L673.7,636.4 L670.2,635.7 L666.7,635.5 L663.2,635.7 L659.6,636.4 L656.1,637.6 L652.5,639.1 L649.0,641.0 L645.4,643.1 L641.9,645.2 L638.3,647.4 L634.8,649.4 L631.2,651.3 L627.6,652.5 L624.1,652.9 L620.5,652.9 L617.0,652.4Z"/><path d="M615.5,663.2 L619.0,662.3 L622.6,660.9 L626.1,659.1 L629.7,657.4 L633.2,655.7 L636.8,653.9 L640.4,652.0 L643.9,650.1 L647.5,648.2 L651.0,646.6 L654.6,645.2 L658.1,644.2 L661.7,643.5 L665.2,643.3 L668.7,643.5 L672.2,644.2 L675.8,645.2 L679.3,646.5 L682.8,648.1 L686.3,649.9 L689.9,651.8 L693.4,653.7 L696.9,655.5 L700.4,657.1 L703.9,658.4 L707.5,659.4 L711.0,660.1 L714.5,660.3 L718.2,659.9 L722.0,658.8 L725.7,657.2 L729.5,655.2 L733.2,653.1 L737.0,651.1 L740.7,649.5 L744.5,648.4 L748.2,648.0 L751.9,648.3 L755.7,649.0 L759.4,650.1 L763.1,651.4 L766.9,653.0 L770.6,654.5 L774.3,655.9 L778.0,657.0 L781.8,657.7 L785.5,657.9 L789.0,657.6 L792.5,656.7 L796.0,655.2 L799.5,653.3 L803.0,651.1 L806.5,648.7 L810.0,646.4 L813.5,644.1 L817.0,642.2 L820.5,640.8 L824.0,639.9 L827.5,639.6 L831.1,639.7 L834.7,640.3 L838.2,641.2 L841.8,642.4 L845.4,643.7 L849.0,645.2 L852.6,646.7 L856.2,648.0 L859.8,649.2 L863.3,650.1 L866.9,650.7 L870.5,650.9 L874.2,650.8 L877.9,650.5 L881.6,650.2 L885.3,649.7 L889.0,649.2 L892.7,648.6 L896.4,648.1 L900.1,647.7 L903.8,648.0 L907.5,649.1 L907.5,650.3 L903.8,651.6 L900.1,652.3 L896.4,652.7 L892.7,653.2 L889.0,653.8 L885.3,654.3 L881.6,654.8 L877.9,655.2 L874.2,655.5 L870.5,655.5 L866.9,655.3 L863.3,654.7 L859.8,653.7 L856.2,652.4 L852.6,650.8 L849.0,649.2 L845.4,647.6 L841.8,646.0 L838.2,644.7 L834.7,643.7 L831.1,643.1 L827.5,642.9 L824.0,643.2 L820.5,644.2 L817.0,645.9 L813.5,648.0 L810.0,650.5 L806.5,653.2 L803.0,655.8 L799.5,658.3 L796.0,660.5 L792.5,662.1 L789.0,663.1 L785.5,663.5 L781.8,663.2 L778.0,662.4 L774.3,661.2 L770.6,659.6 L766.9,657.9 L763.1,656.2 L759.4,654.7 L755.7,653.4 L751.9,652.6 L748.2,652.4 L744.5,652.8 L740.7,654.0 L737.0,655.8 L733.2,658.1 L729.5,660.4 L725.7,662.7 L722.0,664.5 L718.2,665.7 L714.5,666.1 L711.0,665.9 L707.5,665.2 L703.9,664.0 L700.4,662.5 L696.9,660.7 L693.4,658.7 L689.9,656.6 L686.3,654.5 L682.8,652.5 L679.3,650.7 L675.8,649.2 L672.2,648.0 L668.7,647.3 L665.2,647.1 L661.7,647.3 L658.1,648.0 L654.6,649.2 L651.0,650.7 L647.5,652.6 L643.9,654.7 L640.4,656.8 L636.8,659.0 L633.2,661.0 L629.7,662.9 L626.1,664.1 L622.6,664.5 L619.0,664.5 L615.5,664.0Z"/><path d="M614.0,674.8 L617.5,673.9 L621.1,672.5 L624.6,670.7 L628.2,669.0 L631.8,667.3 L635.3,665.5 L638.9,663.6 L642.4,661.7 L646.0,659.8 L649.5,658.2 L653.1,656.8 L656.6,655.8 L660.2,655.1 L663.7,654.9 L667.2,655.1 L670.7,655.8 L674.3,656.8 L677.8,658.1 L681.3,659.7 L684.8,661.5 L688.4,663.4 L691.9,665.3 L695.4,667.1 L698.9,668.7 L702.4,670.0 L706.0,671.0 L709.5,671.7 L713.0,671.9 L716.7,671.5 L720.5,670.4 L724.2,668.8 L728.0,666.8 L731.7,664.7 L735.5,662.7 L739.2,661.1 L743.0,660.0 L746.7,659.6 L750.4,659.9 L754.2,660.6 L757.9,661.7 L761.6,663.0 L765.4,664.6 L769.1,666.1 L772.8,667.5 L776.5,668.6 L780.3,669.3 L784.0,669.5 L787.5,669.2 L791.0,668.3 L794.5,666.8 L798.0,664.9 L801.5,662.7 L805.0,660.3 L808.5,658.0 L812.0,655.7 L815.5,653.8 L819.0,652.4 L822.5,651.5 L826.0,651.1 L829.8,651.4 L833.6,652.2 L837.4,653.4 L841.2,654.9 L845.0,656.6 L848.8,658.2 L852.6,659.7 L856.4,660.9 L860.2,661.7 L864.0,662.0 L867.7,662.1 L871.3,662.4 L875.0,662.9 L878.7,663.5 L882.3,664.2 L886.0,664.8 L889.7,665.3 L893.3,666.2 L897.0,667.7 L897.0,668.9 L893.3,670.1 L889.7,670.4 L886.0,669.8 L882.3,669.1 L878.7,668.4 L875.0,667.7 L871.3,667.1 L867.7,666.7 L864.0,666.6 L860.2,666.3 L856.4,665.5 L852.6,664.1 L848.8,662.4 L845.0,660.5 L841.2,658.7 L837.4,657.0 L833.6,655.6 L829.8,654.7 L826.0,654.4 L822.5,654.8 L819.0,655.8 L815.5,657.5 L812.0,659.6 L808.5,662.1 L805.0,664.8 L801.5,667.4 L798.0,669.9 L794.5,672.1 L791.0,673.7 L787.5,674.7 L784.0,675.1 L780.3,674.8 L776.5,674.0 L772.8,672.8 L769.1,671.2 L765.4,669.5 L761.6,667.8 L757.9,666.3 L754.2,665.0 L750.4,664.2 L746.7,664.0 L743.0,664.4 L739.2,665.6 L735.5,667.4 L731.7,669.7 L728.0,672.0 L724.2,674.3 L720.5,676.1 L716.7,677.3 L713.0,677.7 L709.5,677.5 L706.0,676.8 L702.4,675.6 L698.9,674.1 L695.4,672.3 L691.9,670.3 L688.4,668.2 L684.8,666.1 L681.3,664.1 L677.8,662.3 L674.3,660.8 L670.7,659.6 L667.2,658.9 L663.7,658.7 L660.2,658.9 L656.6,659.6 L653.1,660.8 L649.5,662.3 L646.0,664.2 L642.4,666.3 L638.9,668.4 L635.3,670.6 L631.8,672.6 L628.2,674.5 L624.6,675.7 L621.1,676.1 L617.5,676.1 L614.0,675.6Z"/><path d="M895.0,639.7 L898.5,638.8 L902.1,637.4 L905.6,635.6 L909.2,633.9 L912.8,632.2 L916.3,630.4 L919.9,628.5 L923.4,626.6 L927.0,624.7 L930.5,623.1 L934.1,621.7 L937.6,620.7 L941.2,620.0 L944.7,619.8 L948.2,620.0 L951.7,620.7 L955.3,621.7 L958.8,623.0 L962.3,624.6 L965.8,626.4 L969.4,628.3 L972.9,630.2 L976.4,632.0 L979.9,633.6 L983.4,634.9 L987.0,635.9 L990.5,636.6 L994.0,636.8 L997.7,636.4 L1001.5,635.3 L1005.2,633.7 L1009.0,631.7 L1012.7,629.6 L1016.5,627.6 L1020.2,626.0 L1024.0,624.9 L1027.7,624.5 L1031.4,624.8 L1035.2,625.5 L1038.9,626.6 L1042.6,627.9 L1046.3,629.5 L1050.1,631.0 L1053.8,632.4 L1057.5,633.5 L1061.3,634.2 L1065.0,634.4 L1068.5,634.1 L1072.0,633.2 L1075.5,631.7 L1079.0,629.8 L1082.5,627.6 L1086.0,625.2 L1089.5,622.9 L1093.0,620.6 L1096.5,618.7 L1100.0,617.3 L1103.5,616.4 L1107.0,616.1 L1110.5,616.3 L1114.1,617.2 L1117.6,618.5 L1121.2,620.2 L1124.7,622.1 L1128.3,624.1 L1131.8,626.0 L1135.4,627.7 L1138.9,629.1 L1142.5,629.9 L1146.0,630.2 L1149.6,629.5 L1153.3,627.5 L1156.9,624.6 L1160.6,621.2 L1164.2,618.2 L1167.9,616.7 L1171.5,617.1 L1171.5,618.3 L1167.9,620.2 L1164.2,622.8 L1160.6,625.8 L1156.9,629.2 L1153.3,632.2 L1149.6,634.4 L1146.0,635.2 L1142.5,634.9 L1138.9,634.0 L1135.4,632.5 L1131.8,630.6 L1128.3,628.4 L1124.7,626.2 L1121.2,624.0 L1117.6,622.1 L1114.1,620.6 L1110.5,619.7 L1107.0,619.4 L1103.5,619.7 L1100.0,620.7 L1096.5,622.4 L1093.0,624.5 L1089.5,627.0 L1086.0,629.7 L1082.5,632.3 L1079.0,634.8 L1075.5,637.0 L1072.0,638.6 L1068.5,639.6 L1065.0,640.0 L1061.3,639.7 L1057.5,638.9 L1053.8,637.7 L1050.1,636.1 L1046.3,634.4 L1042.6,632.7 L1038.9,631.2 L1035.2,629.9 L1031.4,629.1 L1027.7,628.9 L1024.0,629.3 L1020.2,630.5 L1016.5,632.3 L1012.7,634.6 L1009.0,636.9 L1005.2,639.2 L1001.5,641.0 L997.7,642.2 L994.0,642.6 L990.5,642.4 L987.0,641.7 L983.4,640.5 L979.9,639.0 L976.4,637.2 L972.9,635.2 L969.4,633.1 L965.8,631.0 L962.3,629.0 L958.8,627.2 L955.3,625.7 L951.7,624.5 L948.2,623.8 L944.7,623.6 L941.2,623.8 L937.6,624.5 L934.1,625.7 L930.5,627.2 L927.0,629.1 L923.4,631.2 L919.9,633.3 L916.3,635.5 L912.8,637.5 L909.2,639.4 L905.6,640.6 L902.1,641.0 L898.5,641.0 L895.0,640.5Z"/><path d="M893.5,651.3 L897.0,650.4 L900.6,649.0 L904.1,647.2 L907.7,645.5 L911.2,643.8 L914.8,642.0 L918.4,640.1 L921.9,638.2 L925.5,636.3 L929.0,634.7 L932.6,633.3 L936.1,632.3 L939.7,631.6 L943.2,631.4 L946.7,631.6 L950.2,632.3 L953.8,633.3 L957.3,634.6 L960.8,636.2 L964.3,638.0 L967.9,639.9 L971.4,641.8 L974.9,643.6 L978.4,645.2 L981.9,646.5 L985.5,647.5 L989.0,648.2 L992.5,648.4 L996.2,648.0 L1000.0,646.9 L1003.7,645.3 L1007.5,643.3 L1011.2,641.2 L1015.0,639.2 L1018.7,637.6 L1022.5,636.5 L1026.2,636.1 L1029.9,636.4 L1033.7,637.1 L1037.4,638.2 L1041.1,639.5 L1044.8,641.1 L1048.6,642.6 L1052.3,644.0 L1056.0,645.1 L1059.8,645.8 L1063.5,646.0 L1067.0,645.7 L1070.5,644.8 L1074.0,643.3 L1077.5,641.4 L1081.0,639.2 L1084.5,636.8 L1088.0,634.5 L1091.5,632.2 L1095.0,630.3 L1098.5,628.9 L1102.0,628.0 L1105.5,627.7 L1109.1,627.9 L1112.8,628.7 L1116.4,630.0 L1120.0,631.6 L1123.7,633.5 L1127.3,635.5 L1131.0,637.3 L1134.6,639.0 L1138.2,640.2 L1141.9,641.0 L1145.5,641.3 L1149.2,640.8 L1153.0,639.2 L1156.8,636.9 L1160.5,634.0 L1164.2,631.1 L1168.0,628.7 L1171.8,627.6 L1175.5,628.2 L1175.5,629.4 L1171.8,631.2 L1168.0,633.3 L1164.2,635.7 L1160.5,638.6 L1156.8,641.5 L1153.0,644.0 L1149.2,645.7 L1145.5,646.3 L1141.9,646.0 L1138.2,645.1 L1134.6,643.6 L1131.0,641.8 L1127.3,639.7 L1123.7,637.5 L1120.0,635.4 L1116.4,633.6 L1112.8,632.2 L1109.1,631.3 L1105.5,631.0 L1102.0,631.3 L1098.5,632.3 L1095.0,634.0 L1091.5,636.1 L1088.0,638.6 L1084.5,641.3 L1081.0,643.9 L1077.5,646.4 L1074.0,648.6 L1070.5,650.2 L1067.0,651.2 L1063.5,651.6 L1059.8,651.3 L1056.0,650.5 L1052.3,649.3 L1048.6,647.7 L1044.8,646.0 L1041.1,644.3 L1037.4,642.8 L1033.7,641.5 L1029.9,640.7 L1026.2,640.5 L1022.5,640.9 L1018.7,642.1 L1015.0,643.9 L1011.2,646.2 L1007.5,648.5 L1003.7,650.8 L1000.0,652.6 L996.2,653.8 L992.5,654.2 L989.0,654.0 L985.5,653.3 L981.9,652.1 L978.4,650.6 L974.9,648.8 L971.4,646.8 L967.9,644.7 L964.3,642.6 L960.8,640.6 L957.3,638.8 L953.8,637.3 L950.2,636.1 L946.7,635.4 L943.2,635.2 L939.7,635.4 L936.1,636.1 L932.6,637.3 L929.0,638.8 L925.5,640.7 L921.9,642.8 L918.4,644.9 L914.8,647.1 L911.2,649.1 L907.7,651.0 L904.1,652.2 L900.6,652.6 L897.0,652.6 L893.5,652.1Z"/><path d="M892.0,662.9 L895.5,662.0 L899.1,660.6 L902.6,658.8 L906.2,657.1 L909.8,655.4 L913.3,653.6 L916.9,651.7 L920.4,649.8 L924.0,647.9 L927.5,646.3 L931.1,644.9 L934.6,643.9 L938.2,643.2 L941.7,643.0 L945.2,643.2 L948.7,643.9 L952.3,644.9 L955.8,646.2 L959.3,647.8 L962.8,649.6 L966.4,651.5 L969.9,653.4 L973.4,655.2 L976.9,656.8 L980.4,658.1 L984.0,659.1 L987.5,659.8 L991.0,660.0 L994.7,659.6 L998.5,658.5 L1002.2,656.9 L1006.0,654.9 L1009.7,652.8 L1013.5,650.8 L1017.2,649.2 L1021.0,648.1 L1024.7,647.7 L1028.4,648.0 L1032.2,648.7 L1035.9,649.8 L1039.6,651.1 L1043.3,652.7 L1047.1,654.2 L1050.8,655.6 L1054.5,656.7 L1058.3,657.4 L1062.0,657.6 L1065.5,657.3 L1069.0,656.4 L1072.5,654.9 L1076.0,653.0 L1079.5,650.8 L1083.0,648.4 L1086.5,646.1 L1090.0,643.8 L1093.5,641.9 L1097.0,640.5 L1100.5,639.6 L1104.0,639.3 L1107.6,639.4 L1111.2,640.0 L1114.8,640.9 L1118.3,642.1 L1121.9,643.4 L1125.5,644.9 L1129.1,646.4 L1132.7,647.7 L1136.2,648.9 L1139.8,649.8 L1143.4,650.4 L1147.0,650.6 L1150.7,650.5 L1154.4,650.2 L1158.1,649.9 L1161.8,649.4 L1165.5,648.9 L1169.2,648.3 L1172.9,647.8 L1176.6,647.4 L1180.3,647.7 L1184.0,648.8 L1184.0,650.0 L1180.3,651.3 L1176.6,652.0 L1172.9,652.4 L1169.2,652.9 L1165.5,653.5 L1161.8,654.0 L1158.1,654.5 L1154.4,654.9 L1150.7,655.2 L1147.0,655.2 L1143.4,655.0 L1139.8,654.4 L1136.2,653.4 L1132.7,652.1 L1129.1,650.5 L1125.5,648.9 L1121.9,647.3 L1118.3,645.7 L1114.8,644.4 L1111.2,643.4 L1107.6,642.8 L1104.0,642.6 L1100.5,642.9 L1097.0,643.9 L1093.5,645.6 L1090.0,647.7 L1086.5,650.2 L1083.0,652.9 L1079.5,655.5 L1076.0,658.0 L1072.5,660.2 L1069.0,661.8 L1065.5,662.8 L1062.0,663.2 L1058.3,662.9 L1054.5,662.1 L1050.8,660.9 L1047.1,659.3 L1043.3,657.6 L1039.6,655.9 L1035.9,654.4 L1032.2,653.1 L1028.4,652.3 L1024.7,652.1 L1021.0,652.5 L1017.2,653.7 L1013.5,655.5 L1009.7,657.8 L1006.0,660.1 L1002.2,662.4 L998.5,664.2 L994.7,665.4 L991.0,665.8 L987.5,665.6 L984.0,664.9 L980.4,663.7 L976.9,662.2 L973.4,660.4 L969.9,658.4 L966.4,656.3 L962.8,654.2 L959.3,652.2 L955.8,650.4 L952.3,648.9 L948.7,647.7 L945.2,647.0 L941.7,646.8 L938.2,647.0 L934.6,647.7 L931.1,648.9 L927.5,650.4 L924.0,652.3 L920.4,654.4 L916.9,656.5 L913.3,658.7 L909.8,660.7 L906.2,662.6 L902.6,663.8 L899.1,664.2 L895.5,664.2 L892.0,663.7Z"/><path d="M890.5,674.5 L894.0,673.6 L897.6,672.2 L901.1,670.4 L904.7,668.7 L908.2,667.0 L911.8,665.2 L915.4,663.3 L918.9,661.4 L922.5,659.5 L926.0,657.9 L929.6,656.5 L933.1,655.5 L936.7,654.8 L940.2,654.6 L943.7,654.8 L947.2,655.5 L950.8,656.5 L954.3,657.8 L957.8,659.4 L961.3,661.2 L964.9,663.1 L968.4,665.0 L971.9,666.8 L975.4,668.4 L978.9,669.7 L982.5,670.7 L986.0,671.4 L989.5,671.6 L993.2,671.2 L997.0,670.1 L1000.7,668.5 L1004.5,666.5 L1008.2,664.4 L1012.0,662.4 L1015.7,660.8 L1019.5,659.7 L1023.2,659.3 L1026.9,659.6 L1030.7,660.3 L1034.4,661.4 L1038.1,662.7 L1041.8,664.3 L1045.6,665.8 L1049.3,667.2 L1053.0,668.3 L1056.8,669.0 L1060.5,669.2 L1064.0,668.9 L1067.5,668.0 L1071.0,666.5 L1074.5,664.6 L1078.0,662.4 L1081.5,660.0 L1085.0,657.7 L1088.5,655.4 L1092.0,653.5 L1095.5,652.1 L1099.0,651.2 L1102.5,650.9 L1106.3,651.1 L1110.1,651.9 L1113.9,653.1 L1117.7,654.6 L1121.5,656.3 L1125.3,657.9 L1129.1,659.4 L1132.9,660.6 L1136.7,661.4 L1140.5,661.7 L1144.2,661.8 L1147.8,662.1 L1151.5,662.6 L1155.2,663.2 L1158.8,663.9 L1162.5,664.5 L1166.2,665.0 L1169.8,665.9 L1173.5,667.4 L1173.5,668.6 L1169.8,669.8 L1166.2,670.1 L1162.5,669.5 L1158.8,668.8 L1155.2,668.1 L1151.5,667.4 L1147.8,666.8 L1144.2,666.4 L1140.5,666.3 L1136.7,666.0 L1132.9,665.2 L1129.1,663.8 L1125.3,662.1 L1121.5,660.2 L1117.7,658.4 L1113.9,656.7 L1110.1,655.3 L1106.3,654.4 L1102.5,654.1 L1099.0,654.5 L1095.5,655.5 L1092.0,657.2 L1088.5,659.3 L1085.0,661.8 L1081.5,664.5 L1078.0,667.1 L1074.5,669.6 L1071.0,671.8 L1067.5,673.4 L1064.0,674.4 L1060.5,674.8 L1056.8,674.5 L1053.0,673.7 L1049.3,672.5 L1045.6,670.9 L1041.8,669.2 L1038.1,667.5 L1034.4,666.0 L1030.7,664.7 L1026.9,663.9 L1023.2,663.7 L1019.5,664.1 L1015.7,665.3 L1012.0,667.1 L1008.2,669.4 L1004.5,671.7 L1000.7,674.0 L997.0,675.8 L993.2,677.0 L989.5,677.4 L986.0,677.2 L982.5,676.5 L978.9,675.3 L975.4,673.8 L971.9,672.0 L968.4,670.0 L964.9,667.9 L961.3,665.8 L957.8,663.8 L954.3,662.0 L950.8,660.5 L947.2,659.3 L943.7,658.6 L940.2,658.4 L936.7,658.6 L933.1,659.3 L929.6,660.5 L926.0,662.0 L922.5,663.9 L918.9,666.0 L915.4,668.1 L911.8,670.3 L908.2,672.3 L904.7,674.2 L901.1,675.4 L897.6,675.8 L894.0,675.8 L890.5,675.3Z"/></g><path d="M498.5,527 H621.5 V503.3 L653.8,535 L621.5,566.8 V543.2 H498.5 Z" fill="#e2981c"/><use href="#trash" transform="translate(150.0,460.0)" opacity="1"/><use href="#trash" transform="translate(767.0,375.0)" opacity="1"/><use href="#trash" transform="translate(682.5,446.5)" opacity="1"/><use href="#trash" transform="translate(896.6,454.5)" opacity="1"/><use href="#trash" transform="translate(249.5,720.5)" opacity="0.87"/><use href="#trash" transform="translate(621.3,690.1)" opacity="0.87"/><use href="#trash" transform="translate(812.0,761.0)" opacity="0.87"/><use href="#trash" transform="translate(959.0,684.6)" opacity="0.87"/><use href="#fish" transform="translate(180.0,674.5) scale(0.1639)"/><use href="#fish" transform="translate(143.0,724.0) scale(0.1794)"/><use href="#fish" transform="translate(238.0,710.0) scale(0.2057)"/><use href="#fish" transform="translate(331.0,700.0) scale(0.1627)"/><use href="#fish" transform="translate(188.5,769.5) scale(0.2093)"/><use href="#fish" transform="translate(294.5,748.0) scale(0.1782)"/><use href="#fish" transform="translate(388.6,734.0) scale(0.2067)"/><use href="#fish" transform="translate(339.0,794.0) scale(0.2105)"/><use href="#fish" transform="translate(783.0,661.5) scale(0.1639)"/><use href="#fish" transform="translate(746.0,711.0) scale(0.1794)"/><use href="#fish" transform="translate(841.0,697.0) scale(0.2057)"/><use href="#fish" transform="translate(934.0,687.0) scale(0.1627)"/><use href="#fish" transform="translate(791.5,756.5) scale(0.2093)"/><use href="#fish" transform="translate(897.5,735.0) scale(0.1782)"/><use href="#fish" transform="translate(991.6,721.0) scale(0.2067)"/><use href="#fish" transform="translate(942.0,781.0) scale(0.2105)"/></svg>
<div class="abs" style="left:213px;top:1268.1px;width:205px;height:59.9px;background:#2f8fbc;border-radius:13px 13px 0 0"></div><div class="abs" style="left:828px;top:1149px;width:205px;height:179px;background:#2f8fbc;border-radius:14px 14px 0 0"></div>
<div class="abs" style="left:692.3px;top:1893.8px;width:231.0px;height:23.2px;background:#dad8d6;border-radius:11.6px"></div><div class="abs" style="left:692.3px;top:1893.8px;width:51.2px;height:23.2px;background:#e3971c;border-radius:11.6px"></div><div class="abs" style="left:692.6px;top:2087.2px;width:230.7px;height:23.3px;background:#dad8d6;border-radius:11.7px"></div><div class="abs" style="left:692.6px;top:2087.2px;width:102.2px;height:23.3px;background:#e3971c;border-radius:11.7px"></div><div class="abs" style="left:688px;top:2280.2px;width:231.4px;height:23.3px;background:#e3971c;border-radius:11.7px"></div>
<svg class="abs" style="left:0;top:1780px" width="700" height="680" viewBox="0 1780 700 680"><g transform="translate(170,1800) scale(0.31068)" stroke="#024985" stroke-width="8" fill="none" stroke-linejoin="round" stroke-linecap="round"><path d="M105,262 C150,252 230,258 290,298 C340,335 380,358 425,358 C470,356 505,330 524,288 C500,280 480,258 480,232 C500,245 520,255 532,264 C550,250 575,245 592,246 C588,275 565,295 535,296 C525,345 505,385 470,412 C440,435 400,452 362,468 M290,478 C230,472 170,445 135,400 C108,360 95,310 105,262 M108,266 C150,305 200,372 285,430 M285,428 C292,455 305,480 320,492 C340,505 360,514 377,518 C362,490 352,460 350,425 M198,470 C205,490 218,508 234,518 C233,505 235,490 238,480 M362,446 C400,440 440,428 472,412 M366,470 C410,456 446,440 470,420 M150,393 C160,405 172,413 186,418"/><circle cx="213" cy="320" r="9"/><path d="M487,150 C495,140 510,138 520,132 C545,105 600,85 670,94 C700,82 730,78 750,80 C742,95 736,110 738,126 C790,170 822,235 822,300 C822,318 818,335 814,346 C826,368 836,390 840,412 C815,408 790,402 765,403 C745,404 728,408 712,404 C712,396 720,390 735,380 C755,366 775,352 788,338 C760,300 720,268 680,240 C640,212 560,180 497,160 C488,158 485,154 487,150 Z M492,152 C540,158 590,160 622,152 M625,150 C630,180 645,210 672,228 C672,210 676,192 690,180 C730,200 790,260 810,338"/><circle cx="572" cy="127" r="6" fill="#024985" stroke="none"/></g><g transform="translate(170,2000) scale(0.31068)" stroke="#024985" stroke-width="8.5" fill="none" stroke-linejoin="round" stroke-linecap="round"><path d="M132,390 C150,330 200,275 280,256 C310,248 335,245 358,243 C395,285 450,322 512,350 C530,300 560,260 610,244 C650,232 720,250 790,292 C760,305 720,314 680,313 C665,313 650,312 640,308 C650,298 662,292 675,288 C640,295 612,320 600,350 C625,355 640,368 652,378 C665,380 678,385 681,395 C680,408 655,408 632,408 C610,435 570,455 530,460 C490,463 455,458 425,445 C405,460 385,480 370,495 C350,492 335,490 312,478 C300,470 290,465 285,458 C278,452 272,445 270,438 C285,425 320,410 390,398 C370,375 350,352 337,328 C290,360 210,385 132,390 Z M227,333 C225,350 215,368 205,378 M277,318 C277,335 268,352 258,362 M347,268 C347,290 342,312 335,328 M398,432 C410,438 420,442 428,445 M520,352 C535,358 548,362 558,362 M690,292 C700,300 712,302 722,300 M730,290 C745,298 756,298 768,294"/><circle cx="595" cy="377" r="5" fill="#024985" stroke="none"/><g stroke-width="3"><path d="M510,276 C495,230 500,175 545,150 C580,133 615,133 640,140 C645,110 665,82 705,70 C730,66 755,68 773,73 C740,75 700,85 675,110 C662,125 660,140 670,148 C655,158 640,168 628,174 C630,165 632,158 628,155 C590,150 550,165 530,195 C515,220 512,250 510,276 Z"/><path d="M695,216 C720,210 750,215 768,232 C780,245 785,258 788,266 C810,255 840,258 855,275 C870,295 872,325 866,352 C862,320 855,295 838,282 C820,272 800,275 790,282 C780,280 772,272 766,262 C755,240 730,222 695,216 Z"/></g></g><g transform="translate(170,2220) scale(0.31068)" stroke="#024985" stroke-width="8.5" fill="none" stroke-linejoin="round" stroke-linecap="round"><path d="M288,215 C270,190 240,180 215,182 C185,184 166,202 167,226 C168,250 190,268 225,270 C255,270 280,262 300,262 C305,250 300,232 288,215 Z"/><circle cx="221" cy="225" r="8" fill="#024985" stroke="none"/><path d="M292,208 C330,160 390,122 455,122 C540,122 620,175 675,240 H328 Z"/><path d="M310,250 C420,275 560,250 672,244 C682,248 682,258 672,262 C560,262 420,285 318,268"/><path d="M355,160 C365,175 360,215 335,238 M362,178 C385,185 405,180 420,165 C430,150 425,135 418,128 M420,168 C445,178 470,178 485,165 C495,150 492,135 488,126 M488,165 C510,180 535,185 548,178 C552,165 550,155 545,148 M550,180 C575,190 600,192 612,185 M400,182 C415,200 420,220 418,238 M470,180 C482,200 486,220 484,238 M528,186 C540,205 548,222 550,238 M595,192 C605,210 612,225 615,238"/><path d="M292,296 C280,320 280,345 300,370 C330,405 365,428 398,436 C408,432 408,420 400,414 C370,395 345,365 335,335 C328,315 325,300 322,280 M330,278 C345,272 365,272 378,280 C395,310 420,345 460,372 C490,392 520,405 530,412 C535,422 530,432 518,432 C480,435 430,425 390,400 C355,375 335,340 328,305 M300,262 C302,275 308,290 320,298 M405,306 C450,294 495,296 535,308 M535,310 C545,345 565,385 600,415 C612,425 625,420 624,408 C620,395 600,370 588,345 C578,325 570,310 565,298 M560,278 C580,276 600,282 615,292 C630,315 650,340 680,358 C700,370 710,395 710,415 C708,425 695,426 680,422 C650,415 620,395 600,370 M640,264 C660,268 678,278 680,288 C678,298 665,300 650,296"/></g></svg>
<svg class="abs" style="left:0;top:2460px" width="1250" height="665" viewBox="0 2460 1250 665"><defs><g id="wb" stroke="#024985" stroke-width="8" stroke-linejoin="round" stroke-linecap="round"><path d="M-20,34 C-20,52 -56,58 -56,94 V270 C-56,296 -40,303 -26,295 C-16,287 -8,281 0,281 C8,281 16,287 26,295 C40,303 56,296 56,270 V94 C56,58 20,52 20,34 Z"/><rect x="-27" y="0" width="54" height="34" rx="5"/><path d="M-56,110 H56 M-56,133 H56 M-56,154 H56 M-56,176 H56 M-56,195 H56 M-56,217 H56" fill="none" stroke-width="7"/></g></defs><g transform="translate(140,2480) scale(0.40776)"><use fill="none" href="#wb" transform="translate(338,291) rotate(55.9)"/><use fill="none" href="#wb" transform="translate(299,317) rotate(-129.2)"/><use href="#wb" fill="#fff" transform="translate(538,773)"/><use href="#wb" fill="#fff" transform="translate(538,467)"/><use href="#wb" fill="#fff" transform="translate(538,158)"/><use href="#wb" fill="none" transform="translate(415,1075) rotate(90)"/><use href="#wb" fill="none" transform="translate(673,1075) rotate(90)"/><use href="#wb" fill="none" transform="translate(933,1075) rotate(90)"/></g><g stroke="#7fa5c9" fill="none" stroke-linecap="round" stroke-linejoin="round"><circle cx="1107.9" cy="2830.9" r="65.2" stroke-width="7"/><path d="M1107.9,2895.9 V2884.9 M1042.9,2830.9 H1053.4 M1172.9,2830.9 H1162.4" stroke-width="5.6"/><path d="M1107.9,2765.9 V2830.9 L1132.4,2855.4" stroke-width="5.6"/></g><g transform="translate(1110.1,2781.2) scale(0.2049)"><use href="#wb" fill="none" style="stroke-width:9"/></g></svg>
<div class="abs" style="left:661px;top:2510px;width:526px;height:4.5px;background:#dbdad9"></div>
<div class="abs" style="left:661px;top:2954px;width:526px;height:4.5px;background:#dbdad9"></div>
<div class="t" style="left:175.79px;top:86.73px;font-size:95px;line-height:95px;font-weight:bold;color:#024985;transform:scaleX(0.8510);-webkit-text-stroke:1.5px #024985;text-shadow:1.65px 0 0 #024985,-1.65px 0 0 #024985;">Ocean Plastic Pollution</div>
<div class="t" style="left:93.40px;top:254.90px;font-size:30.3px;line-height:30.3px;font-weight:bold;color:#024985;transform:scaleX(0.9057);-webkit-text-stroke:0.35px #024985;text-shadow:0.50px 0 0 #024985,-0.50px 0 0 #024985;">In the next 3 decades, plastic waste in the ocean is projected to increase by 200%</div>
<div class="t" style="left:252.91px;top:1008.16px;font-size:72px;line-height:72px;font-weight:bold;color:#024985;transform:scaleX(0.9685);-webkit-text-stroke:0.5px #024985;text-shadow:0.31px 0 0 #024985,-0.31px 0 0 #024985;">2022</div>
<div class="t" style="left:839.55px;top:1008.16px;font-size:72px;line-height:72px;font-weight:bold;color:#024985;transform:scaleX(0.9985);-webkit-text-stroke:0.5px #024985;text-shadow:0.30px 0 0 #024985,-0.30px 0 0 #024985;">2050</div>
<div class="t" style="left:245.58px;top:1269.96px;font-size:47.5px;line-height:47.5px;font-weight:bold;color:#fff;transform:scaleX(0.7092);-webkit-text-stroke:0.57px #fff;text-shadow:0.56px 0 0 #fff,-0.56px 0 0 #fff;">11</div>
<div class="t" style="left:295.54px;top:1269.96px;font-size:47.5px;line-height:47.5px;font-weight:bold;color:#fff;transform:scaleX(0.8349);-webkit-text-stroke:0.57px #fff;text-shadow:0.48px 0 0 #fff,-0.48px 0 0 #fff;">tons</div>
<div class="t" style="left:857.12px;top:1269.96px;font-size:47.5px;line-height:47.5px;font-weight:bold;color:#fff;transform:scaleX(0.9493);-webkit-text-stroke:0.57px #fff;text-shadow:0.42px 0 0 #fff,-0.42px 0 0 #fff;">33</div>
<div class="t" style="left:920.64px;top:1269.96px;font-size:47.5px;line-height:47.5px;font-weight:bold;color:#fff;transform:scaleX(0.8339);-webkit-text-stroke:0.57px #fff;text-shadow:0.48px 0 0 #fff,-0.48px 0 0 #fff;">tons</div>
<div class="t" style="left:161.13px;top:1388.90px;font-size:31px;line-height:31px;font-weight:bold;color:#024985;transform:scaleX(0.8805);-webkit-text-stroke:0.37px #024985;text-shadow:0.28px 0 0 #024985,-0.28px 0 0 #024985;">Of plastic currently enter</div>
<div class="t" style="left:192.41px;top:1429.51px;font-size:31px;line-height:31px;font-weight:bold;color:#024985;transform:scaleX(0.8790);-webkit-text-stroke:0.37px #024985;text-shadow:0.28px 0 0 #024985,-0.28px 0 0 #024985;">the ocean every day</div>
<div class="t" style="left:212.00px;top:1514.02px;font-size:24px;line-height:24px;font-weight:normal;color:#024985;transform:scaleX(0.8825);">This number will triple</div>
<div class="t" style="left:203.63px;top:1548.32px;font-size:24px;line-height:24px;font-weight:normal;color:#024985;transform:scaleX(0.8741);">in the next twenty years</div>
<div class="t" style="left:790.55px;top:1395.31px;font-size:31px;line-height:31px;font-weight:bold;color:#024985;transform:scaleX(0.8813);-webkit-text-stroke:0.37px #024985;text-shadow:0.28px 0 0 #024985,-0.28px 0 0 #024985;">Fish population will be</div>
<div class="t" style="left:810.53px;top:1440.61px;font-size:31px;line-height:31px;font-weight:bold;color:#024985;transform:scaleX(0.8793);-webkit-text-stroke:0.37px #024985;text-shadow:0.28px 0 0 #024985,-0.28px 0 0 #024985;">outpaced by plastic</div>
<div class="t" style="left:773.00px;top:1513.22px;font-size:24px;line-height:24px;font-weight:normal;color:#024985;transform:scaleX(0.8842);">Approximately, resulting in 50 kg of</div>
<div class="t" style="left:794.28px;top:1547.52px;font-size:24px;line-height:24px;font-weight:normal;color:#024985;transform:scaleX(0.8751);">waste per meter of coastline all</div>
<div class="t" style="left:855.62px;top:1580.62px;font-size:24px;line-height:24px;font-weight:normal;color:#024985;transform:scaleX(0.8810);">around the planet</div>
<div class="t" style="left:368.71px;top:1680.64px;font-size:48px;line-height:48px;font-weight:bold;color:#024985;transform:scaleX(0.8576);-webkit-text-stroke:0.4px #024985;text-shadow:0.47px 0 0 #024985,-0.47px 0 0 #024985,3.2px 2.7px 0 #8fb0d6;">Animals that have ingested</div>
<div class="t" style="left:357.03px;top:1741.44px;font-size:48px;line-height:48px;font-weight:bold;color:#024985;transform:scaleX(0.8463);-webkit-text-stroke:0.4px #024985;text-shadow:0.47px 0 0 #024985,-0.47px 0 0 #024985,3.2px 2.7px 0 #8fb0d6;">plastic or are living in plastic</div>
<div class="t" style="left:199.08px;top:1975.52px;font-size:28.5px;line-height:28.5px;font-weight:bold;color:#024985;transform:scaleX(0.9203);-webkit-text-stroke:0.34px #024985;text-shadow:0.43px 0 0 #024985,-0.43px 0 0 #024985,1.9px 1.7px 0.6px #9db7d6;">whales and dolphins</div>
<div class="t" style="left:232.64px;top:2167.22px;font-size:28.5px;line-height:28.5px;font-weight:bold;color:#024985;transform:scaleX(0.9145);-webkit-text-stroke:0.34px #024985;text-shadow:0.44px 0 0 #024985,-0.44px 0 0 #024985,1.9px 1.7px 0.6px #9db7d6;">seabird species</div>
<div class="t" style="left:259.12px;top:2371.12px;font-size:28.5px;line-height:28.5px;font-weight:bold;color:#024985;transform:scaleX(0.9358);-webkit-text-stroke:0.34px #024985;text-shadow:0.43px 0 0 #024985,-0.43px 0 0 #024985,1.9px 1.7px 0.6px #9db7d6;">sea turtles</div>
<div class="t" style="left:935.44px;top:1879.60px;font-size:49px;line-height:49px;font-weight:bold;color:#024985;transform:scaleX(0.9458);-webkit-text-stroke:0.4px #024985;">22</div>
<div class="t" style="left:988.02px;top:1879.60px;font-size:49px;line-height:49px;font-weight:normal;color:#024985;transform:scaleX(0.7387);-webkit-text-stroke:1.1px #024985;text-shadow:0.20px 0 0 #024985,-0.20px 0 0 #024985;">%</div>
<div class="t" style="left:935.68px;top:2072.99px;font-size:49px;line-height:49px;font-weight:bold;color:#024985;transform:scaleX(0.9240);-webkit-text-stroke:0.4px #024985;">44</div>
<div class="t" style="left:988.02px;top:2072.99px;font-size:49px;line-height:49px;font-weight:normal;color:#024985;transform:scaleX(0.7387);-webkit-text-stroke:1.1px #024985;text-shadow:0.20px 0 0 #024985,-0.20px 0 0 #024985;">%</div>
<div class="t" style="left:929.06px;top:2265.99px;font-size:49px;line-height:49px;font-weight:bold;color:#024985;transform:scaleX(0.9063);-webkit-text-stroke:0.4px #024985;">100</div>
<div class="t" style="left:1004.02px;top:2265.99px;font-size:49px;line-height:49px;font-weight:normal;color:#024985;transform:scaleX(0.7435);-webkit-text-stroke:1.1px #024985;text-shadow:0.20px 0 0 #024985,-0.20px 0 0 #024985;">%</div>
<div class="t" style="left:680.52px;top:2598.23px;font-size:48.6px;line-height:48.6px;font-weight:bold;color:#024985;transform:scaleX(0.8714);-webkit-text-stroke:0.58px #024985;text-shadow:0.78px 0 0 #024985,-0.78px 0 0 #024985;">MILLION</div>
<div class="t" style="left:680.67px;top:2645.53px;font-size:48.6px;line-height:48.6px;font-weight:bold;color:#024985;transform:scaleX(0.8169);-webkit-text-stroke:0.58px #024985;text-shadow:0.83px 0 0 #024985,-0.83px 0 0 #024985;">PLASTIC BOTTLES</div>
<div class="t" style="left:680.59px;top:2692.51px;font-size:33px;line-height:33px;font-weight:bold;color:#024985;transform:scaleX(0.9382);-webkit-text-stroke:0.2px #024985;">are purchased worldwide</div>
<div class="t" style="left:680.36px;top:2817.93px;font-size:48.6px;line-height:48.6px;font-weight:bold;color:#024985;transform:scaleX(0.8559);-webkit-text-stroke:0.58px #024985;text-shadow:0.79px 0 0 #024985,-0.79px 0 0 #024985;">EVERY MINUTE</div>
<div class="t" style="left:666.63px;top:2970.34px;font-size:23.5px;line-height:23.5px;font-weight:bold;color:#6b635f;transform:scaleX(0.8092);-webkit-text-stroke:0.28px #6b635f;text-shadow:0.41px 0 0 #6b635f,-0.41px 0 0 #6b635f;">REFERENCES</div>
<div class="abs" style="left:667px;top:3004.8px;width:565px;transform:scaleX(0.892);transform-origin:0 0;font-size:19.6px;line-height:20.1px;color:#6b635f;text-align:justify;font-family:"Liberation Sans", sans-serif"><b>UN - UNEP</b> assessment &ldquo;From pollution to solution: A global assessment of marine litter and plastic pollution.&rdquo;<br><b>UNDP</b> "Combating plastic pollution in Cambodia", "Here's why plastic is a problem"</div>
</body></html>
